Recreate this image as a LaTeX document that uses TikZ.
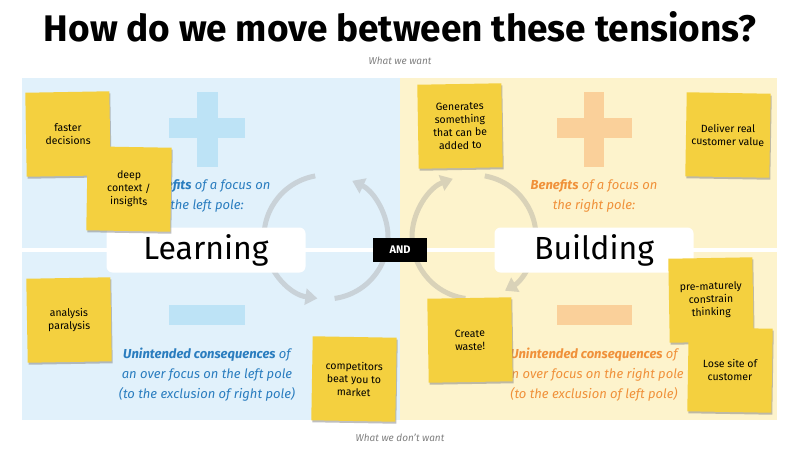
\documentclass[tikz,border=0pt]{standalone}
\usepackage{fontspec}
\setmainfont{Fira Sans}
\usetikzlibrary{shadows,arrows.meta}
\definecolor{lblue}{HTML}{E1F1FB}
\definecolor{lyel}{HTML}{FDF3CC}
\definecolor{plusb}{HTML}{BDE3F6}
\definecolor{pluso}{HTML}{FAD09A}
\definecolor{tblue}{HTML}{2A7DBF}
\definecolor{torange}{HTML}{F0913A}
\definecolor{sticky}{HTML}{F4D03F}
\definecolor{cgray}{HTML}{C9D2D8}
\definecolor{cbeige}{HTML}{D9D2B8}
\tikzset{
  note/.style={fill=sticky, minimum width=84pt, minimum height=84pt, align=center, font=\fontsize{10.5}{13}\selectfont, drop shadow={shadow xshift=1pt, shadow yshift=-2pt, opacity=0.5}},
  polebox/.style={fill=white, rounded corners=6pt, minimum width=199pt, minimum height=45pt, font=\fontsize{32}{34}\selectfont},
  btxt/.style={align=center, text=tblue, font=\fontsize{13}{20}\selectfont\itshape},
  otxt/.style={align=center, text=torange, font=\fontsize{13}{20}\selectfont\itshape},
  captxt/.style={text=gray, font=\fontsize{10}{12}\selectfont\itshape},
  loopl/.style={line width=5pt, draw=cgray, -{Triangle[length=12pt,width=16pt]}},
  loopr/.style={line width=5pt, draw=cbeige, -{Triangle[length=12pt,width=16pt]}}
}
\begin{document}
\begin{tikzpicture}[x=1pt,y=-1pt]
\useasboundingbox (0,0) rectangle (800,451);
\fill[white] (0,0) rectangle (800,451);
\node (title) at (400,27) {\fontsize{37}{40}\selectfont\bfseries How do we move between these tensions?};
\node[captxt] (want) at (400,61) {What we want};
\node[captxt] (dontwant) at (400,438) {What we don’t want};
\fill[lblue] (22,78) rectangle (400,420);
\fill[lyel] (400,78) rectangle (777,420);
\fill[white] (22,248) rectangle (777,252);
% plus / minus
\fill[plusb] (197,92) rectangle (218,167);
\fill[plusb] (169,118) rectangle (245,138);
\fill[plusb] (169,305) rectangle (245,325);
\fill[pluso] (584,92) rectangle (604,167);
\fill[pluso] (557,118) rectangle (632,138);
\fill[pluso] (557,305) rectangle (632,325);
% loops
\coordinate (lc) at (326,237);
\coordinate (rc) at (474,237);
\draw[loopl] ([shift={(-100:62)}]lc) arc[start angle=-100, end angle=-262, radius=62];
\draw[loopl] ([shift={(-278:62)}]lc) arc[start angle=-278, end angle=-425, radius=62];
\draw[loopr] ([shift={(-80:62)}]rc) arc[start angle=-80, end angle=60, radius=62];
\draw[loopr] ([shift={(-262:62)}]rc) arc[start angle=-262, end angle=-110, radius=62];
% texts
\node[btxt] (lben) at (207,196) {\textbf{Benefits} of a focus on\\the left pole:};
\node[btxt] (lcon) at (207,375) {\textbf{Unintended consequences} of\\an over focus on the left pole\\(to the exclusion of right pole)};
\node[otxt] (rben) at (594,196) {\textbf{Benefits} of a focus on\\the right pole:};
\node[otxt] (rcon) at (594,375) {\textbf{Unintended consequences} of\\an over focus on the right pole\\(to the exclusion of left pole)};
\node[polebox] (learn) at (206,250) {Learning};
\node[polebox] (build) at (594,250) {Building};
\node[fill=black, text=white, font=\fontsize{11}{12}\selectfont\bfseries, minimum width=54pt, minimum height=24pt] (and) at (400,250) {AND};
% stickies
\node[note, rotate=1] (n1) at (68,134) {faster\\decisions};
\node[note, rotate=-1] (n2) at (129,189) {deep\\context /\\insights};
\node[note, rotate=1] (n3) at (69,320) {analysis\\paralysis};
\node[note, rotate=-1] (n4) at (354,379) {competitors\\beat you to\\market};
\node[note, rotate=1] (n5) at (460,126) {Generates\\something\\that can be\\added to};
\node[note, rotate=-1] (n6) at (728,135) {Deliver real\\customer value};
\node[note, rotate=1] (n7) at (470,340) {Create\\waste!};
\node[note, rotate=1] (n8) at (711,300) {pre-maturely\\constrain\\thinking};
\node[note, rotate=-1] (n9) at (730,370) {Lose site of\\customer};
\end{tikzpicture}
\end{document}
